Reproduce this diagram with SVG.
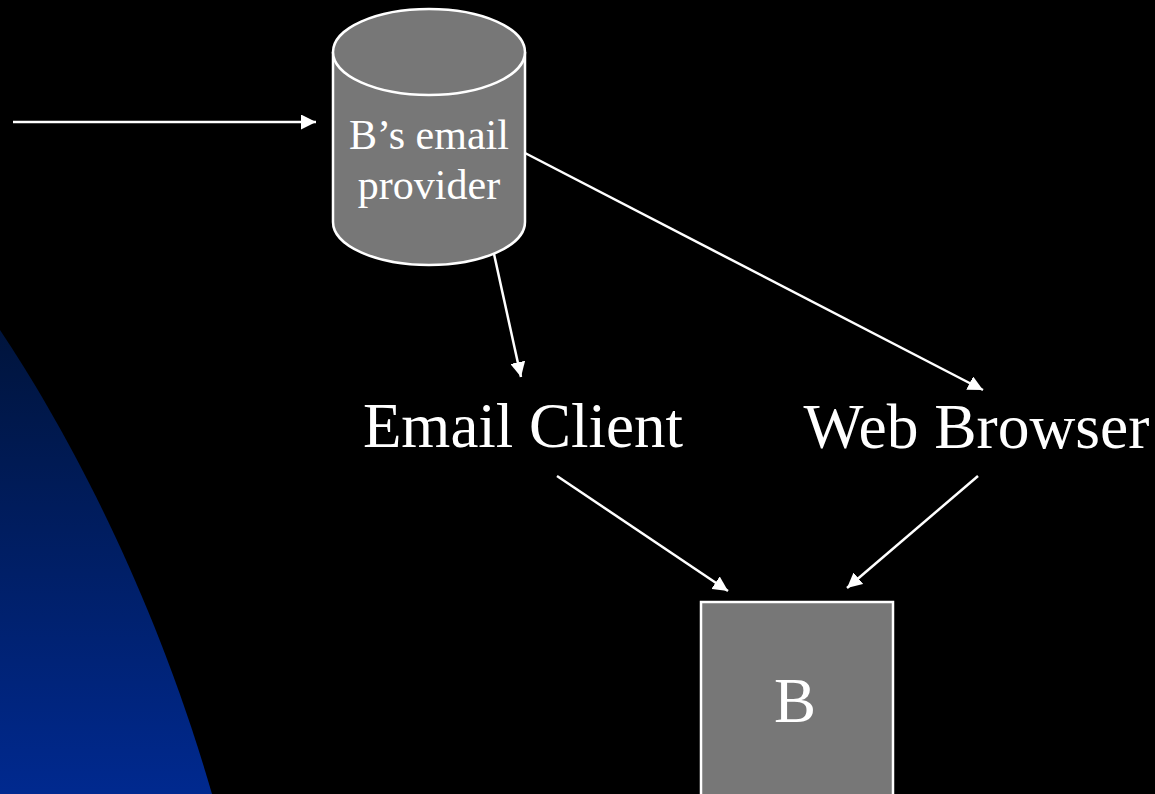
<svg xmlns="http://www.w3.org/2000/svg" width="1155" height="794" viewBox="0 0 1155 794">
<defs>
<linearGradient id="blueGrad" x1="0" y1="330" x2="0" y2="794" gradientUnits="userSpaceOnUse">
<stop offset="0" stop-color="#00143c"/>
<stop offset="1" stop-color="#00298f"/>
</linearGradient>
<marker id="arrow" viewBox="0 0 10 10" refX="10" refY="5" markerWidth="6" markerHeight="6" markerUnits="strokeWidth" orient="auto">
<path d="M0,0 L10,5 L0,10 Z" fill="#ffffff"/>
</marker>
<style>
.lbl{font-family:"Liberation Serif","Times New Roman",serif;fill:#ffffff;text-anchor:middle}
.shape{fill:#777777;stroke:#ffffff;stroke-width:2.5}
.conn{stroke:#ffffff;stroke-width:2.5;fill:none;marker-end:url(#arrow)}
</style>
</defs>
<rect x="0" y="0" width="1155" height="794" fill="#000000"/>
<path d="M0,330 C60,420 150,580 212,794 L0,794 Z" fill="url(#blueGrad)"/>
<g id="provider">
<path class="shape" d="M333,52 L333,222 A96,43 0 0 0 525,222 L525,52"/>
<ellipse class="shape" cx="429" cy="52" rx="96" ry="43"/>
<text class="lbl" x="429" y="149" font-size="42">B’s email</text>
<text class="lbl" x="429" y="199" font-size="42">provider</text>
</g>
<g id="email-client">
<text class="lbl" x="523" y="447" font-size="63">Email Client</text>
</g>
<g id="web-browser">
<text class="lbl" x="976.5" y="448" font-size="63.5">Web Browser</text>
</g>
<g id="b">
<rect class="shape" x="701" y="602" width="192" height="200"/>
<text class="lbl" x="795" y="722" font-size="63">B</text>
</g>
<g id="connectors">
<line class="conn" x1="13" y1="122" x2="316" y2="122"/>
<line class="conn" x1="494" y1="254" x2="521" y2="377"/>
<line class="conn" x1="525" y1="153" x2="983" y2="390"/>
<line class="conn" x1="557" y1="476" x2="728" y2="591"/>
<line class="conn" x1="978" y1="476" x2="847" y2="588"/>
</g>
</svg>
